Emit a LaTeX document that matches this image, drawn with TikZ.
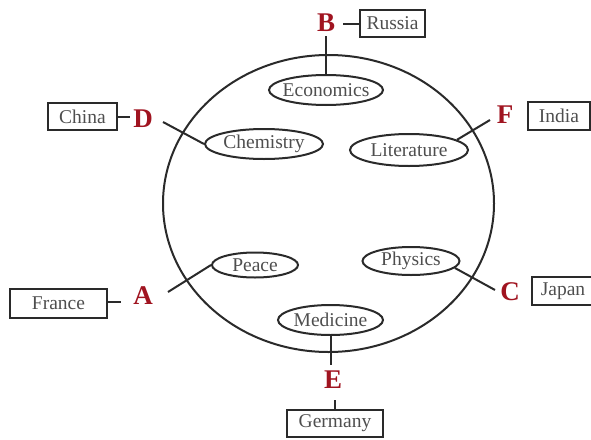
\documentclass[tikz,border=0pt]{standalone}
\usepackage{fontspec}
\setmainfont{Liberation Serif}
\usetikzlibrary{shapes.geometric}
\definecolor{linec}{HTML}{2A2A2A}
\definecolor{txtc}{HTML}{4E4E4E}
\definecolor{letc}{HTML}{A01420}
\newcommand\ctrtxt[1]{\makebox[0pt]{#1}}
\tikzset{
  topic/.style 2 args={ellipse, draw=linec, line width=2pt, minimum width=#1, minimum height=#2, inner sep=0pt, font=\fontsize{19.5}{19.5}\selectfont, text=txtc},
  country/.style 2 args={rectangle, draw=linec, line width=2pt, minimum width=#1, minimum height=#2, inner sep=0pt, font=\fontsize{19.5}{19.5}\selectfont, text=txtc},
  letter/.style={font=\fontsize{27}{27}\selectfont\bfseries, text=letc, inner sep=0pt},
  conn/.style={draw=linec, line width=2pt},
  globe/.style={ellipse, draw=linec, line width=2pt, minimum width=331pt, minimum height=297pt, inner sep=0pt}
}
\begin{document}
\begin{tikzpicture}[x=1pt,y=-1pt]
\useasboundingbox (0,0) rectangle (591,439);
\node[globe] (world) at (328.5,203.5) {};
% topics
\node[topic={114pt}{30pt}] (econ) at (326,90) {\ctrtxt{Economics}};
\node[topic={118pt}{30pt}] (chem) at (264,144) {\ctrtxt{Chemistry}};
\node[topic={118pt}{32pt}] (lit) at (409,150) {\ctrtxt{Literature}};
\node[topic={86pt}{25pt}] (peace) at (255,265) {\ctrtxt{Peace}};
\node[topic={97pt}{28pt}] (phys) at (411,261) {\ctrtxt{Physics}};
\node[topic={105pt}{30pt}] (med) at (330.5,320) {\ctrtxt{Medicine}};
% countries
\node[country={65pt}{27pt}] (russia) at (392.5,23.5) {\ctrtxt{Russia}};
\node[country={69pt}{27pt}] (china) at (82.5,116.5) {\ctrtxt{China}};
\node[country={62pt}{28pt}] (india) at (559,116) {\ctrtxt{India}};
\node[country={97pt}{29pt}] (france) at (58.5,303.5) {\ctrtxt{France}};
\node[country={62pt}{28pt}] (japan) at (563,291) {\ctrtxt{Japan}};
\node[country={96pt}{27pt}] (germany) at (335,423.5) {\ctrtxt{Germany}};
% letters
\node[letter] (B) at (326,23) {B};
\node[letter] (D) at (143,118.5) {D};
\node[letter] (F) at (505,115) {F};
\node[letter] (A) at (143,296) {A};
\node[letter] (C) at (510,292) {C};
\node[letter] (E) at (333,380) {E};
% free ends
\coordinate (dS) at (163,122);
\coordinate (fS) at (490,120);
\coordinate (aS) at (168,292);
\coordinate (aL) at (121,302);
\coordinate (cS) at (495,290);
\coordinate (eT) at (330.5,365);
\coordinate (eB) at (335,400);
% connectors
\draw[conn, shorten <=8pt] (B.east |- russia.west) -- (russia.west);
\draw[conn, shorten <=4pt] (B.south) -- (econ.north);
\draw[conn, shorten >=3pt] (china.east) -- (china.east -| D.west);
\draw[conn] (dS) -- (chem.west);
\draw[conn] (fS) -- (lit.12);
\draw[conn] (aS) -- (peace.west);
\draw[conn] (france.east |- aL) -- (aL);
\draw[conn] (phys.-9) -- (cS);
\draw[conn] (med.south) -- (eT);
\draw[conn] (eB) -- (germany.north);
\end{tikzpicture}
\end{document}
